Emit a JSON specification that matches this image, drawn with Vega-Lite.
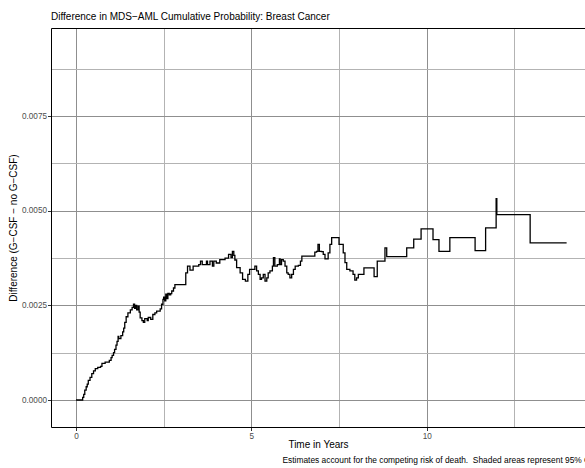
{
  "$schema": "https://vega.github.io/schema/vega-lite/v6.json",
  "width": 534,
  "height": 399,
  "autosize": {"type": "none"},
  "padding": {"left": 51, "top": 28, "right": 0, "bottom": 41},
  "background": "white",
  "title": {
    "text": "Difference in MDS−AML Cumulative Probability: Breast Cancer",
    "anchor": "start",
    "frame": "group",
    "font": "Liberation Sans",
    "fontSize": 10,
    "fontWeight": "normal",
    "color": "black",
    "offset": 6
  },
  "config": {
    "view": {"stroke": null},
    "font": "Liberation Sans"
  },
  "data": {
    "values": [
      {"years": 0, "diff": 0},
      {"years": 0.19, "diff": 0.00007},
      {"years": 0.22, "diff": 0.00015},
      {"years": 0.25, "diff": 0.00026},
      {"years": 0.29, "diff": 0.00035},
      {"years": 0.32, "diff": 0.00042},
      {"years": 0.35, "diff": 0.00052},
      {"years": 0.40, "diff": 0.00060},
      {"years": 0.45, "diff": 0.00070},
      {"years": 0.50, "diff": 0.00077},
      {"years": 0.55, "diff": 0.00083},
      {"years": 0.62, "diff": 0.00086},
      {"years": 0.70, "diff": 0.00089},
      {"years": 0.74, "diff": 0.00097},
      {"years": 0.83, "diff": 0.00100},
      {"years": 0.95, "diff": 0.00105},
      {"years": 1.00, "diff": 0.00112},
      {"years": 1.03, "diff": 0.00118},
      {"years": 1.07, "diff": 0.00125},
      {"years": 1.10, "diff": 0.00134},
      {"years": 1.14, "diff": 0.00145},
      {"years": 1.17, "diff": 0.00155},
      {"years": 1.20, "diff": 0.00168},
      {"years": 1.22, "diff": 0.00162},
      {"years": 1.28, "diff": 0.00170},
      {"years": 1.33, "diff": 0.00180},
      {"years": 1.36, "diff": 0.00190},
      {"years": 1.39, "diff": 0.00205},
      {"years": 1.43, "diff": 0.00220},
      {"years": 1.48, "diff": 0.00230},
      {"years": 1.55, "diff": 0.00238},
      {"years": 1.60, "diff": 0.00245},
      {"years": 1.64, "diff": 0.00253},
      {"years": 1.67, "diff": 0.00242},
      {"years": 1.70, "diff": 0.00250},
      {"years": 1.73, "diff": 0.00238},
      {"years": 1.77, "diff": 0.00248},
      {"years": 1.80, "diff": 0.00232},
      {"years": 1.83, "diff": 0.00217},
      {"years": 1.88, "diff": 0.00210},
      {"years": 1.92, "diff": 0.00205},
      {"years": 1.96, "diff": 0.00215},
      {"years": 2.03, "diff": 0.00210},
      {"years": 2.06, "diff": 0.00218},
      {"years": 2.13, "diff": 0.00213},
      {"years": 2.19, "diff": 0.00226},
      {"years": 2.25, "diff": 0.00230},
      {"years": 2.30, "diff": 0.00235},
      {"years": 2.40, "diff": 0.00241},
      {"years": 2.44, "diff": 0.00253},
      {"years": 2.48, "diff": 0.00266},
      {"years": 2.50, "diff": 0.00272},
      {"years": 2.53, "diff": 0.00262},
      {"years": 2.56, "diff": 0.00280},
      {"years": 2.59, "diff": 0.00268},
      {"years": 2.62, "diff": 0.00282},
      {"years": 2.66, "diff": 0.00278},
      {"years": 2.70, "diff": 0.00281},
      {"years": 2.73, "diff": 0.00288},
      {"years": 2.78, "diff": 0.00296},
      {"years": 2.82, "diff": 0.00305},
      {"years": 3.13, "diff": 0.00336},
      {"years": 3.18, "diff": 0.00354},
      {"years": 3.25, "diff": 0.00343},
      {"years": 3.34, "diff": 0.00354},
      {"years": 3.50, "diff": 0.00358},
      {"years": 3.55, "diff": 0.00367},
      {"years": 3.60, "diff": 0.00358},
      {"years": 3.72, "diff": 0.00367},
      {"years": 3.75, "diff": 0.00358},
      {"years": 3.82, "diff": 0.00367},
      {"years": 3.89, "diff": 0.00354},
      {"years": 3.93, "diff": 0.00367},
      {"years": 4.00, "diff": 0.00362},
      {"years": 4.10, "diff": 0.00371},
      {"years": 4.25, "diff": 0.00375},
      {"years": 4.35, "diff": 0.00385},
      {"years": 4.42, "diff": 0.00376},
      {"years": 4.46, "diff": 0.00393},
      {"years": 4.50, "diff": 0.00382},
      {"years": 4.53, "diff": 0.00370},
      {"years": 4.58, "diff": 0.00350},
      {"years": 4.68, "diff": 0.00336},
      {"years": 4.75, "diff": 0.00319},
      {"years": 4.83, "diff": 0.00314},
      {"years": 4.90, "diff": 0.00332},
      {"years": 4.95, "diff": 0.00345},
      {"years": 5.10, "diff": 0.00354},
      {"years": 5.15, "diff": 0.00341},
      {"years": 5.20, "diff": 0.00332},
      {"years": 5.25, "diff": 0.00319},
      {"years": 5.29, "diff": 0.00323},
      {"years": 5.34, "diff": 0.00332},
      {"years": 5.39, "diff": 0.00314},
      {"years": 5.44, "diff": 0.00323},
      {"years": 5.48, "diff": 0.00336},
      {"years": 5.53, "diff": 0.00341},
      {"years": 5.60, "diff": 0.00354},
      {"years": 5.63, "diff": 0.00376},
      {"years": 5.67, "diff": 0.00354},
      {"years": 5.74, "diff": 0.00358},
      {"years": 5.80, "diff": 0.00373},
      {"years": 5.82, "diff": 0.00358},
      {"years": 5.86, "diff": 0.00371},
      {"years": 5.91, "diff": 0.00367},
      {"years": 5.96, "diff": 0.00354},
      {"years": 6.01, "diff": 0.00336},
      {"years": 6.05, "diff": 0.00332},
      {"years": 6.10, "diff": 0.00323},
      {"years": 6.15, "diff": 0.00332},
      {"years": 6.20, "diff": 0.00345},
      {"years": 6.25, "diff": 0.00354},
      {"years": 6.34, "diff": 0.00356},
      {"years": 6.40, "diff": 0.00367},
      {"years": 6.44, "diff": 0.00380},
      {"years": 6.81, "diff": 0.00391},
      {"years": 6.86, "diff": 0.00393},
      {"years": 6.90, "diff": 0.00411},
      {"years": 6.94, "diff": 0.00393},
      {"years": 7.00, "diff": 0.00392},
      {"years": 7.05, "diff": 0.00385},
      {"years": 7.10, "diff": 0.00373},
      {"years": 7.19, "diff": 0.00389},
      {"years": 7.24, "diff": 0.00411},
      {"years": 7.29, "diff": 0.00429},
      {"years": 7.50, "diff": 0.00411},
      {"years": 7.62, "diff": 0.00389},
      {"years": 7.67, "diff": 0.00363},
      {"years": 7.72, "diff": 0.00345},
      {"years": 7.81, "diff": 0.00341},
      {"years": 7.90, "diff": 0.00332},
      {"years": 7.95, "diff": 0.00317},
      {"years": 8.00, "diff": 0.00323},
      {"years": 8.05, "diff": 0.00332},
      {"years": 8.21, "diff": 0.00349},
      {"years": 8.50, "diff": 0.00326},
      {"years": 8.59, "diff": 0.00367},
      {"years": 8.81, "diff": 0.00402},
      {"years": 8.86, "diff": 0.00379},
      {"years": 9.43, "diff": 0.00402},
      {"years": 9.63, "diff": 0.00425},
      {"years": 9.84, "diff": 0.00452},
      {"years": 10.18, "diff": 0.00424},
      {"years": 10.35, "diff": 0.00393},
      {"years": 10.66, "diff": 0.00429},
      {"years": 11.38, "diff": 0.00395},
      {"years": 11.68, "diff": 0.00455},
      {"years": 11.98, "diff": 0.00532},
      {"years": 12.00, "diff": 0.00490},
      {"years": 12.95, "diff": 0.00415},
      {"years": 13.99, "diff": 0.00415}
    ]
  },
  "layer": [
    {
      "mark": {"type": "line", "interpolate": "step-after", "color": "black", "strokeWidth": 1.3},
      "encoding": {
        "x": {
          "field": "years",
          "type": "quantitative",
          "scale": {"domain": [-0.713, 14.514], "nice": false, "zero": false},
          "axis": {
            "values": [0, 2.5, 5, 7.5, 10, 12.5],
            "labelExpr": "datum.value % 5 == 0 ? format(datum.value, 'd') : ''",
            "labelOverlap": false,
            "labelFlush": false,
            "grid": true,
            "gridColor": {"condition": {"test": "datum.value % 5 == 0", "value": "#8f8f8f"}, "value": "#b3b3b3"},
            "gridWidth": 1,
            "tickColor": "#333333",
            "tickOpacity": {"condition": {"test": "datum.value % 5 == 0", "value": 1}, "value": 0},
            "tickSize": 3.5,
            "domainColor": "black",
            "domainWidth": 1,
            "labelColor": "#4d4d4d",
            "labelFont": "Liberation Sans",
            "labelFontSize": 8.2,
            "labelPadding": 1.5,
            "title": "Time in Years",
            "titleFont": "Liberation Sans",
            "titleFontSize": 10,
            "titleFontWeight": "normal",
            "titleColor": "black",
            "titlePadding": 0
          }
        },
        "y": {
          "field": "diff",
          "type": "quantitative",
          "scale": {"domain": [-0.000713, 0.00983], "nice": false, "zero": false},
          "axis": {
            "values": [0, 0.00125, 0.0025, 0.00375, 0.005, 0.00625, 0.0075, 0.00875],
            "labelExpr": "round(datum.value * 800) % 2 == 0 ? format(datum.value, '.4f') : ''",
            "labelOverlap": false,
            "labelFlush": false,
            "grid": true,
            "gridColor": {"condition": {"test": "round(datum.value * 800) % 2 == 0", "value": "#8f8f8f"}, "value": "#b3b3b3"},
            "gridWidth": 1,
            "tickColor": "#333333",
            "tickOpacity": {"condition": {"test": "round(datum.value * 800) % 2 == 0", "value": 1}, "value": 0},
            "tickSize": 3.5,
            "domainColor": "black",
            "domainWidth": 1,
            "labelColor": "#4d4d4d",
            "labelFont": "Liberation Sans",
            "labelFontSize": 8.2,
            "labelPadding": 1,
            "title": "Difference (G−CSF − no G−CSF)",
            "titleFont": "Liberation Sans",
            "titleFontSize": 10,
            "titleFontWeight": "normal",
            "titleColor": "black",
            "titlePadding": 3
          }
        }
      }
    },
    {
      "mark": {"type": "line", "strokeOpacity": 0},
      "encoding": {
        "x": {
          "field": "years",
          "type": "quantitative",
          "axis": {"orient": "top", "labels": false, "ticks": false, "grid": false, "title": null, "domain": true, "domainColor": "black", "domainWidth": 1}
        }
      }
    },
    {
      "mark": {"type": "line", "strokeOpacity": 0},
      "encoding": {
        "x": {
          "field": "years",
          "type": "quantitative",
          "axis": {
            "orient": "bottom",
            "offset": 27,
            "labels": false,
            "ticks": false,
            "grid": false,
            "domain": false,
            "title": "Estimates account for the competing risk of death.\u00a0 Shaded areas represent 95% CI",
            "titleAnchor": "end",
            "titleX": 541,
            "titleAlign": "right",
            "titleFont": "Liberation Sans",
            "titleFontSize": 8.4,
            "titleFontWeight": "normal",
            "titleColor": "black",
            "titlePadding": 1
          }
        }
      }
    }
  ],
  "resolve": {"axis": {"x": "independent"}}
}
